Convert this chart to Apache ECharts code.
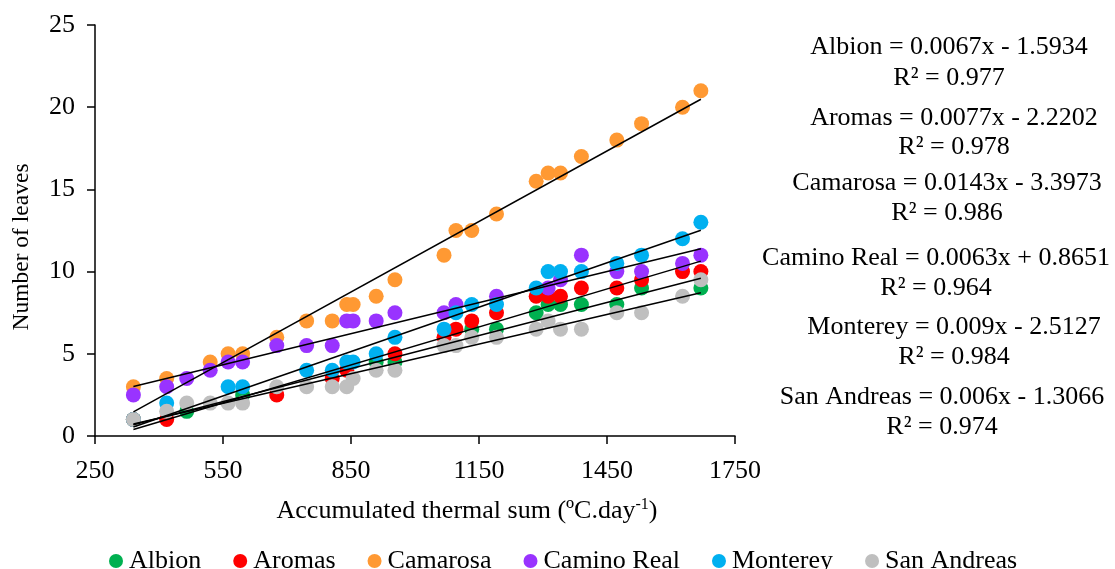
<!DOCTYPE html>
<html>
<head>
<meta charset="utf-8">
<title>Number of leaves vs accumulated thermal sum</title>
<script src="https://cdn.jsdelivr.net/npm/echarts@6/dist/echarts.min.js"></script>
<style>
  html, body { margin: 0; padding: 0; background: #fff; }
  #chart { width: 1115px; height: 569px; }
</style>
</head>
<body>
<div id="chart"></div>
<script>
// x values (accumulated thermal sum) shared by all cultivars
const thermalSum = [340, 418, 465, 520, 562, 596, 676, 746, 806, 840, 855, 909, 953, 1068, 1096, 1133, 1191, 1284, 1312, 1341, 1390, 1473, 1531, 1627, 1670];

const cultivars = ['Albion', 'Aromas', 'Camarosa', 'Camino Real', 'Monterey', 'San Andreas'];

const albion     = [1, null, 1.5, null, null, 2.5, null, null, null, null, null, 4.5, 4.5, null, null, 6.5, 6.5, 7.5, 8, 8, 8, 8, 9, null, 9];
const aromas     = [1, 1, null, null, null, null, 2.5, null, 3.5, 4, null, null, 5, 6, 6.5, 7, 7.5, 8.5, 8.5, 8.5, 9, 9, 9.5, 10, 10];
const camarosa   = [3, 3.5, null, 4.5, 5, 5, 6, 7, 7, 8, 8, 8.5, 9.5, 11, 12.5, 12.5, 13.5, 15.5, 16, 16, 17, 18, 19, 20, 21];
const caminoReal = [2.5, 3, 3.5, 4, 4.5, 4.5, 5.5, 5.5, 5.5, 7, 7, 7, 7.5, 7.5, 8, null, 8.5, null, 9, 9.5, 11, 10, 10, 10.5, 11];
const monterey   = [1, 2, null, null, 3, 3, null, 4, 4, 4.5, 4.5, 5, 6, 6.5, 7.5, 8, 8, 9, 10, 10, 10, 10.5, 11, 12, 13];
const sanAndreas = [1, 1.5, 2, 2, 2, 2, 3, 3, 3, 3, 3.5, 4, 4, 5.5, 5.5, 6, 6, 6.5, 7, 6.5, 6.5, 7.5, 7.5, 8.5, 9.5];

// linear trendlines as printed on the chart
const slopes     = [0.0067, 0.0077, 0.0143, 0.0063, 0.009, 0.006];
const intercepts = [-1.5934, -2.2202, -3.3973, 0.8651, -2.5127, -1.3066];
const rSquared   = ['0.977', '0.978', '0.986', '0.964', '0.984', '0.974'];

const xTicks = { min: 250, max: 1750, interval: 300 };
const yTicks = { min: 0, max: 25, interval: 5 };

const colors = ['#00B050', '#FF0000', '#FF9933', '#9933FF', '#00B0F0', '#BFBFBF'];
const values = [albion, aromas, camarosa, caminoReal, monterey, sanAndreas];

const FONT = '"Liberation Serif", "Times New Roman", serif';

// where the equation labels sit (centre x, y of equation line, y of R² line)
const eqPos = [
  [949, 47, 78],
  [954, 118, 147],
  [947, 183, 213],
  [936, 258, 288],
  [954, 327, 357],
  [942, 397, 427]
];

let chart = echarts.init(document.getElementById('chart'));

let scatterSeries = cultivars.map(function(name, i) {
  let pts = [];
  values[i].forEach(function(v, j) {
    if (v !== null) pts.push([thermalSum[j], v]);
  });
  return {
    name: name,
    type: 'scatter',
    data: pts,
    symbol: 'circle',
    symbolSize: 15,
    itemStyle: { color: colors[i], opacity: 1 },
    z: 2 + i
  };
});

let trendSeries = cultivars.map(function(name, i) {
  let xs = [];
  values[i].forEach(function(v, j) {
    if (v !== null) xs.push(thermalSum[j]);
  });
  let x0 = Math.min.apply(null, xs);
  let x1 = Math.max.apply(null, xs);
  return {
    name: name + ' trend',
    type: 'line',
    data: [[x0, slopes[i] * x0 + intercepts[i]], [x1, slopes[i] * x1 + intercepts[i]]],
    symbol: 'none',
    silent: true,
    lineStyle: { color: '#000', width: 1.5 },
    z: 20
  };
});

let eqGraphics = [];
cultivars.forEach(function(name, i) {
  let b = intercepts[i];
  let eq = name + ' = ' + slopes[i] + 'x ' + (b < 0 ? '- ' : '+ ') + Math.abs(b);
  eqGraphics.push({
    type: 'text',
    x: eqPos[i][0], y: eqPos[i][1],
    style: { text: eq, font: '26px ' + FONT, fill: '#000', textAlign: 'center', textVerticalAlign: 'middle' }
  });
  eqGraphics.push({
    type: 'text',
    x: eqPos[i][0], y: eqPos[i][2],
    style: { text: 'R² = ' + rSquared[i], font: '26px ' + FONT, fill: '#000', textAlign: 'center', textVerticalAlign: 'middle' }
  });
});

chart.setOption({
  animation: false,
  textStyle: { fontFamily: FONT },
  grid: { left: 95, right: 380, top: 25, bottom: 133 },
  xAxis: {
    type: 'value',
    min: xTicks.min, max: xTicks.max, interval: xTicks.interval,
    axisLine: { show: true, lineStyle: { color: '#000', width: 1.5 } },
    axisTick: { show: true, length: 8, lineStyle: { color: '#000', width: 1.5 } },
    axisLabel: {
      color: '#000', fontSize: 26, fontFamily: FONT, margin: 22,
      formatter: function(v) { return String(v); }
    },
    splitLine: { show: false }
  },
  yAxis: {
    type: 'value',
    min: yTicks.min, max: yTicks.max, interval: yTicks.interval,
    axisLine: { show: true, lineStyle: { color: '#000', width: 1.5 } },
    axisTick: { show: true, length: 8, lineStyle: { color: '#000', width: 1.5 } },
    axisLabel: { color: '#000', fontSize: 26, fontFamily: FONT, margin: 20 },
    splitLine: { show: false }
  },
  legend: {
    data: cultivars,
    left: 104,
    top: 543,
    icon: 'circle',
    itemWidth: 14,
    itemHeight: 14,
    itemGap: 32,
    textStyle: { color: '#000', fontSize: 26, fontFamily: FONT, padding: [0, 0, 0, 1] }
  },
  graphic: [
    {
      type: 'text',
      x: 22, y: 247,
      rotation: Math.PI / 2,
      style: { text: 'Number of leaves', font: '23.5px ' + FONT, fill: '#000', textAlign: 'center', textVerticalAlign: 'middle' }
    },
    {
      type: 'text',
      x: 467, y: 511,
      style: {
        text: '{n|Accumulated thermal sum (ºC.day}{s|-1}{n|)}',
        textAlign: 'center',
        textVerticalAlign: 'middle',
        rich: {
          n: { font: '26px ' + FONT, fill: '#000', color: '#000' },
          s: { font: '16px ' + FONT, fill: '#000', color: '#000', verticalAlign: 'top', padding: [0, 0, 12, 0] }
        }
      }
    }
  ].concat(eqGraphics),
  series: scatterSeries.concat(trendSeries)
});
</script>
</body>
</html>
